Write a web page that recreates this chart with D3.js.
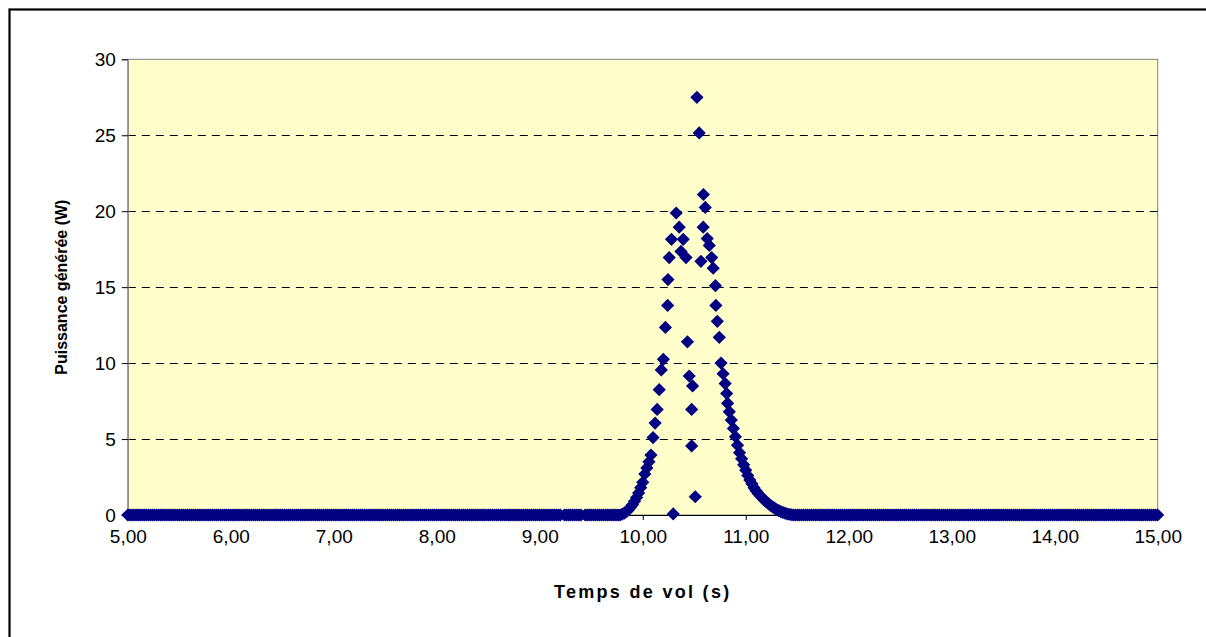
<!DOCTYPE html>
<html>
<head>
<meta charset="utf-8">
<script src="https://cdn.jsdelivr.net/npm/d3@7"></script>
<style>
  html, body { margin: 0; padding: 0; background: #ffffff; }
  svg { display: block; }
  text { font-family: Arial, "Liberation Sans", sans-serif; fill: #000; }
</style>
</head>
<body>
<svg id="chart" width="1206" height="637"></svg>
<script>
// ---------------- data ----------------
const xTickValues = [5, 6, 7, 8, 9, 10, 11, 12, 13, 14, 15];
const xTickLabels = ["5,00", "6,00", "7,00", "8,00", "9,00", "10,00", "11,00", "12,00", "13,00", "14,00", "15,00"];
const yTickValues = [0, 5, 10, 15, 20, 25, 30];
const yTickLabels = ["0", "5", "10", "15", "20", "25", "30"];

// sampling grid of the flight-time record (s); power read as 0 outside the pulse
const gridStart = 5.00;
const gridEnd = 15.00;
const gridStep = 0.02;
const pulseFrom = 9.80;
const pulseTo = 11.44;
const missingTimes = [9.22, 9.42];

// pulse (non-zero) samples
const pulseTime = [
  9.80, 9.82, 9.84, 9.86, 9.88, 9.90, 9.92, 9.94, 9.96, 9.98,
  10.00, 10.02, 10.04, 10.06, 10.08, 10.10, 10.12, 10.14, 10.16, 10.18,
  10.20, 10.22, 10.242, 10.245, 10.257, 10.279, 10.296, 10.325, 10.354, 10.371,
  10.393, 10.42, 10.434, 10.451, 10.475, 10.484, 10.475, 10.51, 10.526, 10.548,
  10.565, 10.587, 10.589, 10.607, 10.626, 10.646, 10.669, 10.684, 10.706, 10.71,
  10.724, 10.743, 10.76, 10.78, 10.80, 10.815, 10.824, 10.84, 10.86, 10.88,
  10.90, 10.92, 10.94, 10.96, 10.98, 11.00, 11.02, 11.04, 11.06, 11.08,
  11.10, 11.12, 11.14, 11.16, 11.18, 11.20, 11.22, 11.24, 11.26, 11.28,
  11.30, 11.32, 11.34, 11.36, 11.38, 11.40, 11.42, 11.44
];
const pulsePower = [
  0.05, 0.12, 0.22, 0.33, 0.50, 0.68, 0.90, 1.15, 1.45, 1.80,
  2.15, 2.70, 3.10, 3.50, 3.95, 5.10, 6.05, 6.95, 8.25, 9.55,
  10.25, 12.35, 13.80, 15.50, 16.95, 18.15, 0.07, 19.88, 18.95, 17.35,
  18.15, 16.95, 11.40, 9.15, 6.95, 8.50, 4.55, 1.20, 27.50, 25.15,
  16.70, 18.95, 21.10, 20.25, 18.20, 17.75, 16.95, 16.25, 15.10, 13.80,
  12.75, 11.70, 10.00, 9.30, 8.65, 8.00, 7.35, 6.80, 6.25, 5.70,
  5.15, 4.60, 4.10, 3.70, 3.30, 2.95, 2.60, 2.30, 2.05, 1.80,
  1.60, 1.42, 1.27, 1.12, 0.98, 0.86, 0.75, 0.64, 0.54, 0.45,
  0.36, 0.29, 0.22, 0.17, 0.12, 0.08, 0.05, 0.02
];

// ---------------- layout ----------------
const svg = d3.select("#chart");
const plot = { left: 127.8, right: 1157.7, top: 59.3, bottom: 515 };

const x = d3.scaleLinear().domain([5, 15]).range([plot.left, plot.right]);
const y = d3.scaleLinear().domain([0, 30]).range([plot.bottom, plot.top]);

// outer frame (only top / left visible in the crop)
svg.append("rect")
  .attr("x", 9.5).attr("y", 9.5)
  .attr("width", 1240).attr("height", 660)
  .attr("fill", "none").attr("stroke", "#000").attr("stroke-width", 2.2);

// plot background
svg.append("rect")
  .attr("x", plot.left).attr("y", plot.top)
  .attr("width", plot.right - plot.left).attr("height", plot.bottom - plot.top)
  .attr("fill", "#FFFFCC").attr("stroke", "#808080").attr("stroke-width", 1);

// gridlines
svg.append("g").selectAll("line")
  .data(yTickValues.filter(v => v > 0 && v < 30))
  .join("line")
  .attr("x1", plot.left).attr("x2", plot.right)
  .attr("y1", d => Math.round(y(d)) + 0.5).attr("y2", d => Math.round(y(d)) + 0.5)
  .attr("stroke", "#000").attr("stroke-width", 1)
  .attr("stroke-dasharray", "8,6");

// axes
const yAxis = d3.axisLeft(y).tickValues(yTickValues)
  .tickFormat((d, i) => yTickLabels[i]).tickSize(6).tickPadding(6);
const gy = svg.append("g").attr("transform", `translate(${plot.left},0)`).call(yAxis);
gy.select(".domain").attr("stroke", "#808080");
gy.selectAll(".tick line").attr("stroke", "#000");
gy.selectAll("text").style("font-size", "19px").style("font-family", "Arial, 'Liberation Sans', sans-serif");

const xAxis = d3.axisBottom(x).tickValues(xTickValues)
  .tickFormat((d, i) => xTickLabels[i]).tickSize(5).tickPadding(10);
const gx = svg.append("g").attr("transform", `translate(0,${plot.bottom})`).call(xAxis);
gx.select(".domain").attr("stroke", "#000");
gx.selectAll(".tick line").attr("stroke", "#000");
gx.selectAll("text").style("font-size", "19px").style("font-family", "Arial, 'Liberation Sans', sans-serif");

// ---------------- points ----------------
const zeroPoints = [];
const nSteps = Math.round((gridEnd - gridStart) / gridStep);
for (let i = 0; i <= nSteps; i++) {
  const t = +(gridStart + i * gridStep).toFixed(2);
  if (t >= pulseFrom - 1e-9 && t <= pulseTo + 1e-9) continue;
  if (missingTimes.some(m => Math.abs(m - t) < 1e-9)) continue;
  zeroPoints.push({ t: t, p: 0 });
}
const pulsePoints = pulseTime.map((t, i) => ({ t: t, p: pulsePower[i] }));
const allPoints = zeroPoints.concat(pulsePoints);

const r = 6.6;
const diamond = `M0,${-r}L${r},0L0,${r}L${-r},0Z`;
svg.append("g").selectAll("path")
  .data(allPoints)
  .join("path")
  .attr("d", diamond)
  .attr("transform", d => `translate(${x(d.t)},${y(d.p)})`)
  .attr("fill", "#000080");

// ---------------- titles ----------------
svg.append("text")
  .attr("x", (plot.left + plot.right) / 2).attr("y", 598)
  .attr("text-anchor", "middle")
  .style("font-size", "18px").style("font-weight", "bold").style("letter-spacing", "2.3px")
  .text("Temps de vol (s)");

svg.append("text")
  .attr("transform", `translate(67,${(plot.top + plot.bottom) / 2}) rotate(-90)`)
  .attr("text-anchor", "middle")
  .style("font-size", "16px").style("font-weight", "bold")
  .text("Puissance générée (W)");
</script>
</body>
</html>
